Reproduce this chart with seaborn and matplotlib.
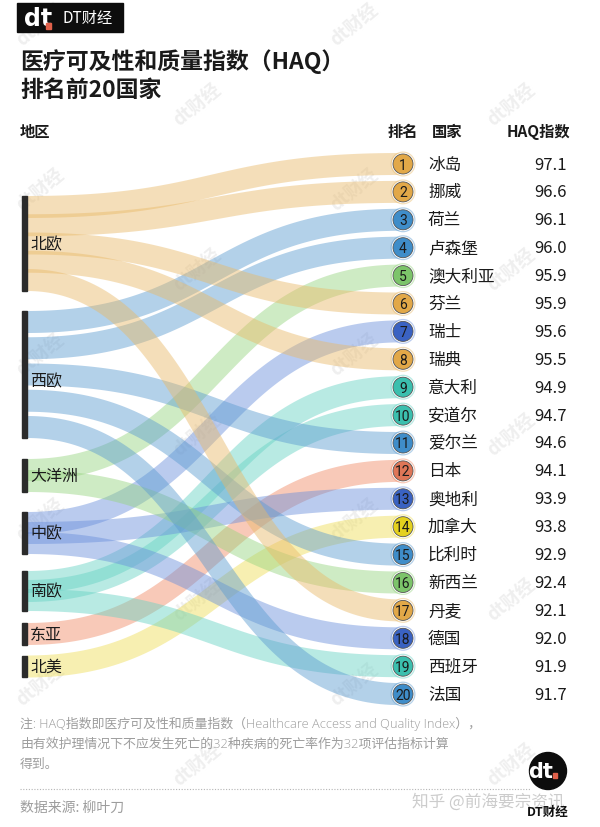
import numpy as np
import pandas as pd
import matplotlib
matplotlib.use("Agg")
import matplotlib.pyplot as plt
from matplotlib.patches import Rectangle, Circle
import seaborn as sns

# ---------------- data ----------------
regions = ['北欧', '西欧', '大洋洲', '中欧', '南欧', '东亚', '北美']
countries = ['冰岛', '挪威', '荷兰', '卢森堡', '澳大利亚', '芬兰', '瑞士', '瑞典', '意大利', '安道尔',
             '爱尔兰', '日本', '奥地利', '加拿大', '比利时', '新西兰', '丹麦', '德国', '西班牙', '法国']
country_region = ['北欧', '北欧', '西欧', '西欧', '大洋洲', '北欧', '中欧', '北欧', '南欧', '南欧',
                  '西欧', '东亚', '中欧', '北美', '西欧', '大洋洲', '北欧', '中欧', '南欧', '西欧']
haq = [97.1, 96.6, 96.1, 96.0, 95.9, 95.9, 95.6, 95.5, 94.9, 94.7,
       94.6, 94.1, 93.9, 93.8, 92.9, 92.4, 92.1, 92.0, 91.9, 91.7]
ranks = list(range(1, 21))

title_lines = ['医疗可及性和质量指数（HAQ）', '排名前20国家']
note_lines = ['注: HAQ指数即医疗可及性和质量指数（Healthcare Access and Quality Index），',
              '由有效护理情况下不应发生死亡的32种疾病的死亡率作为32项评估指标计算',
              '得到。']
source_text = '数据来源: 柳叶刀'

# ---------------- styles / layout ----------------
band_color = {'北欧': '#e9b968', '西欧': '#5b9bd0', '大洋洲': '#96d47f', '中欧': '#6a8fdc',
              '南欧': '#66d2c4', '东亚': '#f08a66', '北美': '#eedd55'}
dot_color = {'北欧': '#e2a848', '西欧': '#3f8dc9', '大洋洲': '#7cc46a', '中欧': '#3a62c2',
             '南欧': '#3bbfae', '东亚': '#df7657', '北美': '#e4d11e'}
node_span = {'北欧': (197, 292), '西欧': (312, 439), '大洋洲': (460, 493), '中欧': (513, 555),
             '南欧': (572, 612), '东亚': (624, 646), '北美': (657, 678)}

sns.set_theme(style='white')
plt.rcParams['font.family'] = ['Noto Sans CJK SC', 'DejaVu Sans']

W, H = 600, 828
fig = plt.figure(figsize=(6, 8.28), dpi=100)
ax = fig.add_axes([0, 0, 1, 1])
ax.set_xlim(0, W)
ax.set_ylim(H, 0)
ax.axis('off')

px = 72 / 100  # points per pixel
band_w = 22
x_left, x_right = 27, 400
row0, row_step = 165, 27.9
dot_x = 403

def row_y(r):
    return row0 + (r - 1) * row_step

# faint diagonal watermarks
for i, xw in enumerate([40, 197, 354, 511]):
    for j in range(-1, 6):
        yw = (25 if i % 2 == 0 else 105) + 165 * j
        if -20 < yw < 840:
            ax.text(xw, yw, 'dt财经', rotation=40, fontsize=13, color='#efefef',
                    fontweight='bold', ha='center', va='center', zorder=0)

# left start positions of each flow
start_y = {}
for reg in regions:
    idx = [i for i, c in enumerate(country_region) if c == reg]
    top, bot = node_span[reg]
    n = len(idx)
    if n == 1:
        ys = [(top + bot) / 2]
    else:
        ys = np.linspace(top + band_w / 2, bot - band_w / 2, n)
    for k, i in enumerate(idx):
        start_y[i] = ys[k]

# build flow curves (cubic bezier, horizontal tangents)
t = np.linspace(0, 1, 120)
rows = []
for i in range(len(countries)):
    y0, y1 = start_y[i], row_y(ranks[i])
    xm = (x_left + x_right) / 2
    bx = (1 - t) ** 3 * x_left + 3 * (1 - t) ** 2 * t * xm + 3 * (1 - t) * t ** 2 * xm + t ** 3 * x_right
    by = (1 - t) ** 3 * y0 + 3 * (1 - t) ** 2 * t * y0 + 3 * (1 - t) * t ** 2 * y1 + t ** 3 * y1
    for xx, yy in zip(bx, by):
        rows.append({'flow': i, 'region': country_region[i], 'x': xx, 'y': yy})
flows = pd.DataFrame(rows)

for i in range(len(countries)):
    sub = flows[flows.flow == i]
    reg = country_region[i]
    sns.lineplot(data=sub, x='x', y='y', sort=False, estimator=None, ax=ax,
                 color=band_color[reg], lw=band_w * px, alpha=0.46,
                 solid_capstyle='butt', legend=False, zorder=2)

# left node bars + labels
for reg in regions:
    top, bot = node_span[reg]
    ax.add_patch(Rectangle((21.5, top), 5.5, bot - top, color='#2b2b2b', zorder=4))
    off = 6 if reg == '西欧' else 0
    ax.text(30, (top + bot) / 2 + off, reg, fontsize=11.5, color='#1a1a1a', va='center', ha='left', zorder=5)

# rank dots
dots = pd.DataFrame({'x': [dot_x] * 20, 'y': [row_y(r) for r in ranks], 'region': country_region})
sns.scatterplot(data=dots, x='x', y='y', hue='region', palette=band_color, s=(25 * px) ** 2,
                alpha=0.45, edgecolor='none', legend=False, ax=ax, zorder=5)
sns.scatterplot(data=dots, x='x', y='y', s=(22.5 * px) ** 2, color='white', edgecolor='none',
                legend=False, ax=ax, zorder=6)
sns.scatterplot(data=dots, x='x', y='y', hue='region', palette=dot_color, s=(20 * px) ** 2,
                edgecolor='#555555', linewidth=0.6, legend=False, ax=ax, zorder=7)
ax.set_xlim(0, W)
ax.set_ylim(H, 0)
ax.set_xlabel('')
ax.set_ylabel('')

for r, c, v in zip(ranks, countries, haq):
    y = row_y(r)
    ax.text(dot_x, y + 0.5, str(r), fontsize=10, color='#1a1a1a', ha='center', va='center',
            family=['Roboto', 'DejaVu Sans'], zorder=8)
    ax.text(428, y, c, fontsize=12, color='#1a1a1a', ha='left', va='center', zorder=8)
    ax.text(567, y, f'{v:.1f}', fontsize=12, color='#1a1a1a', ha='right', va='center', zorder=8)

# headers
ax.text(20, 132, '地区', fontsize=11, fontweight='bold', color='#1a1a1a', va='center')
ax.text(388, 132, '排名', fontsize=11, fontweight='bold', color='#1a1a1a', va='center')
ax.text(432, 132, '国家', fontsize=11, fontweight='bold', color='#1a1a1a', va='center')
ax.text(570, 132, 'HAQ指数', fontsize=11, fontweight='bold', color='#1a1a1a', va='center', ha='right')

# title
ax.text(20, 62, title_lines[0], fontsize=16.5, fontweight='bold', color='#1a1a1a', va='center')
ax.text(20, 90, title_lines[1], fontsize=16.5, fontweight='bold', color='#1a1a1a', va='center')

# top logo
ax.add_patch(Rectangle((17, 4), 106, 29, color='#0d0d0d', zorder=5))
ax.text(24, 19, 'dt', fontsize=17, fontweight='bold', color='white', va='center', ha='left',
        family=['DejaVu Sans'], zorder=6)
ax.add_patch(Rectangle((46, 24), 5, 6, color='#e0604a', zorder=7))
ax.text(62, 18.5, 'DT财经', fontsize=11, color='white', va='center', ha='left', zorder=6)

# notes
note_font = ['Open Sans', 'Noto Sans CJK SC', 'DejaVu Sans']
for k, line in enumerate(note_lines):
    ax.text(20, 724 + k * 20, line, fontsize=9.3, color='#9d9d9d', va='center', ha='left',
            fontweight='light', family=note_font)
ax.plot([20, 530], [790, 790], ls=(0, (1, 1.5)), color='#b5b5b5', lw=0.8)
ax.text(20, 808, source_text, fontsize=10, color='#9d9d9d', va='center', ha='left', fontweight='light')
ax.text(412, 802, '知乎 @前海要宗资讯', fontsize=12, color='#cccccc', va='center', ha='left')

# bottom logo
ax.add_patch(Circle((548, 772), 18.5, color='#0d0d0d', zorder=9))
ax.text(541, 772, 'dt', fontsize=15, fontweight='bold', color='white', va='center', ha='center',
        family=['DejaVu Sans'], zorder=10)
ax.add_patch(Rectangle((553, 774), 4, 5, color='#e0604a', zorder=11))
ax.text(548, 812, 'DT财经', fontsize=9, fontweight='bold', color='#111111', va='center', ha='center', zorder=10)

fig.savefig('out.png', dpi=100)
